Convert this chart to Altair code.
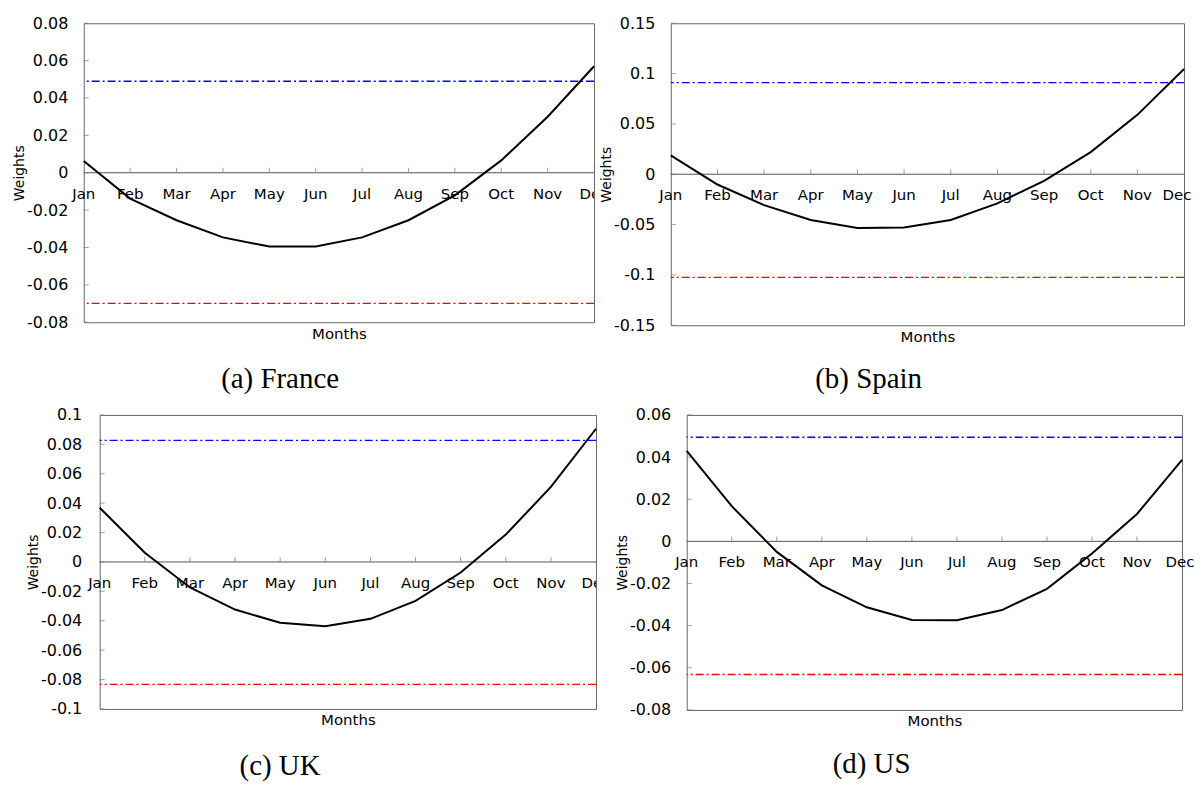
import altair as alt
import pandas as pd

months = ["Jan", "Feb", "Mar", "Apr", "May", "Jun", "Jul", "Aug", "Sep", "Oct", "Nov", "Dec"]

france = [0.0063, -0.0138, -0.0254, -0.0346, -0.0395, -0.0395, -0.0346, -0.0254, -0.0121, 0.0066, 0.0300, 0.0570]
spain = [0.0188, -0.0102, -0.0307, -0.0455, -0.0535, -0.0530, -0.0455, -0.0290, -0.0066, 0.0220, 0.0590, 0.1045]
uk = [0.0369, 0.0063, -0.0174, -0.0324, -0.0414, -0.0437, -0.0387, -0.0265, -0.0072, 0.0186, 0.0510, 0.0906]
us = [0.0430, 0.0167, -0.0050, -0.0209, -0.0313, -0.0373, -0.0374, -0.0326, -0.0225, -0.0058, 0.0130, 0.0387]

upper_bounds = [0.0490, 0.0910, 0.0827, 0.0494]
lower_bounds = [-0.0699, -0.1025, -0.0833, -0.0632]

france_ticks = [-0.08, -0.06, -0.04, -0.02, 0, 0.02, 0.04, 0.06, 0.08]
spain_ticks = [-0.15, -0.1, -0.05, 0, 0.05, 0.1, 0.15]
uk_ticks = [-0.1, -0.08, -0.06, -0.04, -0.02, 0, 0.02, 0.04, 0.06, 0.08, 0.1]
us_ticks = [-0.08, -0.06, -0.04, -0.02, 0, 0.02, 0.04, 0.06]

captions = ["(a) France", "(b) Spain", "(c) UK", "(d) US"]

FONT = "DejaVu Sans"
LABEL_EXPR = "replace(format(datum.value, '~g'), '\u2212', '-')"


def panel(values, up, lo, ticks, caption, w, h, clip_dec, dec_dx, label_pad,
          cap_dx, cap_offset):
    idx = list(range(1, 13))
    df = pd.DataFrame({"m": idx, "label": months, "v": values})
    lab_df = pd.DataFrame({"m": idx[:-1], "label": months[:-1], "v": [0] * 11})
    dec_df = pd.DataFrame({"m": idx[-1:], "label": months[-1:], "v": [0]})
    xt_df = pd.DataFrame({"m": idx[1:-1], "v": [0] * 10})
    yt_df = pd.DataFrame({"v": ticks})

    x = alt.X("m:Q",
              scale=alt.Scale(domain=[1, 12], nice=False, zero=False),
              axis=alt.Axis(title="Months", labels=False, ticks=False,
                            domain=False, grid=False, titlePadding=4,
                            titleFont=FONT, titleFontSize=15,
                            titleFontWeight="normal", titleColor="black"))
    y = alt.Y("v:Q",
              scale=alt.Scale(domain=[ticks[0], ticks[-1]], nice=False, zero=False),
              axis=alt.Axis(title="Weights", values=ticks, labelExpr=LABEL_EXPR,
                            ticks=False, tickSize=0, domain=False, grid=False,
                            labelPadding=label_pad, labelFont=FONT,
                            labelFontSize=16, labelColor="black",
                            titlePadding=0, titleFont=FONT, titleFontSize=14,
                            titleFontWeight="normal", titleColor="black"))

    line = alt.Chart(df).mark_line(color="black", strokeWidth=2).encode(x=x, y=y)
    zero = alt.Chart(pd.DataFrame({"v": [0]})).mark_rule(
        color="#555555", strokeWidth=1).encode(y=y)
    upper = alt.Chart(pd.DataFrame({"v": [up]})).mark_rule(
        color="#0000ff", strokeWidth=1.4, strokeDash=[8, 3, 2, 3]).encode(y=y)
    lower = alt.Chart(pd.DataFrame({"v": [lo]})).mark_rule(
        color="#ff0000", strokeWidth=1.4, strokeDash=[8, 3, 2, 3]).encode(y=y)
    xticks = alt.Chart(xt_df).mark_tick(
        orient="vertical", size=5, thickness=1, color="#777777", yOffset=-2.5
    ).encode(x=x, y=y)
    yticks = alt.Chart(yt_df).mark_tick(
        orient="horizontal", size=5, thickness=1, color="#777777"
    ).encode(y=y, x=alt.value(2.5))
    labels = alt.Chart(lab_df).mark_text(
        font=FONT, fontSize=15, dy=21, baseline="middle", color="black"
    ).encode(x=x, y=y, text="label:N")
    dec = alt.Chart(dec_df).mark_text(
        font=FONT, fontSize=15, dy=21, dx=dec_dx, baseline="middle", color="black",
        clip=clip_dec
    ).encode(x=x, y=y, text="label:N")

    return alt.layer(upper, lower, zero, xticks, yticks, line, labels, dec).properties(
        width=w, height=h,
        title=alt.TitleParams(text=caption, orient="bottom", anchor="middle",
                              frame="group", font="Liberation Serif",
                              fontSize=29, fontWeight="normal", color="black",
                              dx=cap_dx, offset=cap_offset))


p_fr = panel(france, upper_bounds[0], lower_bounds[0], france_ticks, captions[0],
             512, 300, True, 0, 16, -59, 24)
p_es = panel(spain, upper_bounds[1], lower_bounds[1], spain_ticks, captions[1],
             515, 303, False, -7, 16, -59, 21)
p_uk = panel(uk, upper_bounds[2], lower_bounds[2], uk_ticks, captions[2],
             498, 295, True, 0, 18, -68, 24)
p_us = panel(us, upper_bounds[3], lower_bounds[3], us_ticks, captions[3],
             497, 296, False, -2, 16, -63, 21)


def spacer():
    return alt.Chart(pd.DataFrame({"v": [0]})).mark_point(size=0, opacity=0).encode(
        x=alt.X("v:Q", axis=None), y=alt.Y("v:Q", axis=None)
    ).properties(width=1, height=1, view=alt.ViewBackground(strokeOpacity=0))


row1 = alt.hconcat(spacer(), alt.hconcat(p_fr, p_es, spacing=0), spacing=0)
row2 = alt.hconcat(spacer(), alt.hconcat(p_uk, p_us, spacing=14), spacing=14)

chart = alt.vconcat(row1, row2, spacing=11).properties(
    padding={"left": 3, "top": 5, "right": 0, "bottom": 0}
).configure_view(stroke="#666666", strokeWidth=1)

chart.save("out.html", embed_options={"renderer": "svg", "actions": False})
